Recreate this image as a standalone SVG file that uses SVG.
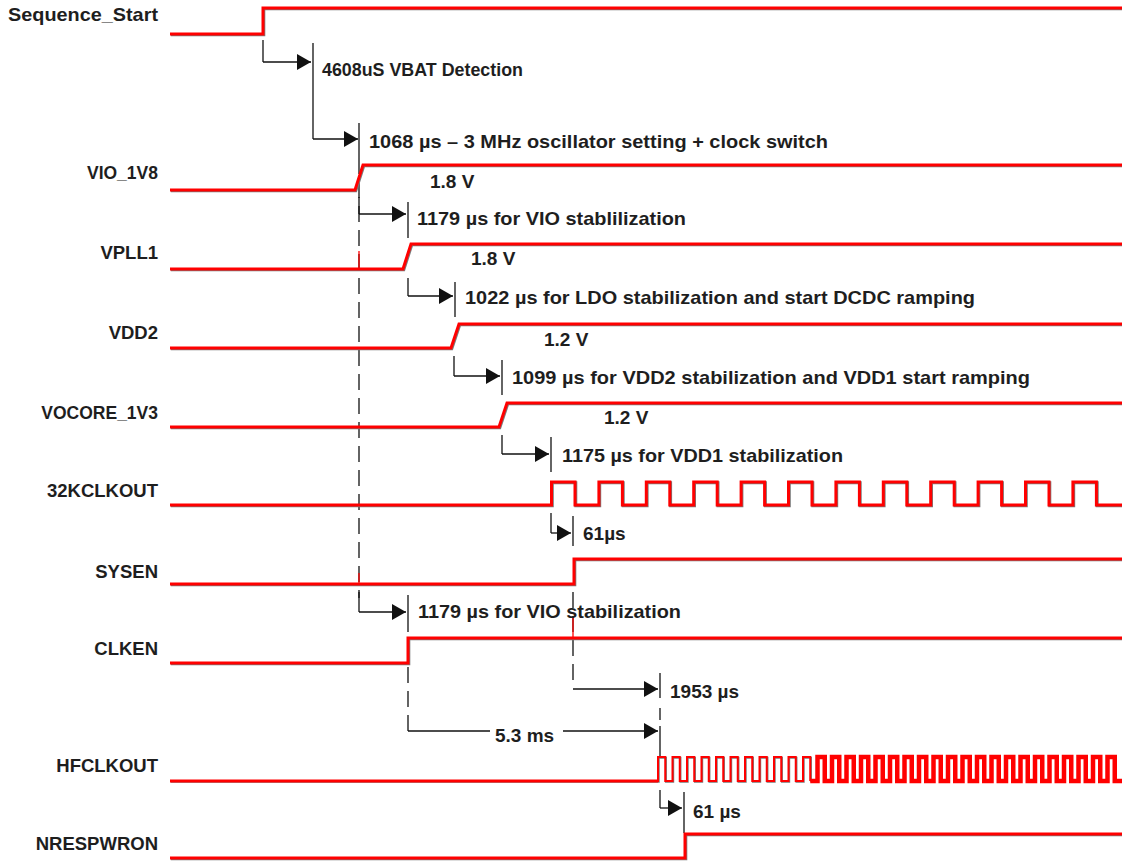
<svg xmlns="http://www.w3.org/2000/svg" width="1122" height="861" viewBox="0 0 1122 861">
<style>
.bg{fill:#fff}
.sig{fill:none;stroke:#ff0000;stroke-width:3;stroke-linejoin:miter}
.sh{fill:none;stroke:#7a7a7a;stroke-width:3;stroke-linejoin:miter}
.thin{fill:none;stroke:#ff0000;stroke-width:2}
.thick{fill:none;stroke:#ff0000;stroke-width:4.5}
.lab{font-family:"Liberation Sans",Arial,sans-serif;font-weight:bold;font-size:18.5px;fill:#1e1e1e;text-anchor:end}
.ann{font-family:"Liberation Sans",Arial,sans-serif;font-weight:bold;font-size:19px;fill:#1e1e1e}
.c{fill:none;stroke:#111;stroke-width:1.3}
.d{fill:none;stroke:#111;stroke-width:1.3;stroke-dasharray:16 8}
.a{fill:none;stroke:#111;stroke-width:1.3;marker-end:url(#ah)}
.r{stroke:#ff0000;stroke-width:1.3}
</style>
<defs>
<marker id="ah" viewBox="0 0 14 16" refX="14" refY="8" markerWidth="14" markerHeight="16" markerUnits="userSpaceOnUse" orient="auto">
<path d="M0,0 L14,8 L0,16 z" fill="#111"/>
</marker>
</defs>
<rect class="bg" x="0" y="0" width="1122" height="861"/>

<g id="connectors">
<path class="c" d="M263,40 V62"/><path class="a" d="M263,62 H311"/>
<path class="c" d="M313,43 V139"/>
<path class="a" d="M313,139 H358"/>
<path class="c" d="M359,123 V158"/>
<path class="d" d="M359,158 V598"/>
<path class="c" d="M359,197 V214"/><path class="a" d="M359,214 H406"/>
<path class="c" d="M408,202 V238"/>
<path class="c" d="M408,278 V296"/><path class="a" d="M408,296 H453"/>
<path class="c" d="M455,282 V317"/>
<path class="c" d="M454,356 V376"/><path class="a" d="M454,376 H500"/>
<path class="c" d="M502,360 V395"/>
<path class="c" d="M502,435 V454"/><path class="a" d="M502,454 H549"/>
<path class="c" d="M551,437 V472"/>
<path class="c" d="M551,513 V533"/><path class="a" d="M551,533 H571"/>
<path class="c" d="M573,516 V546"/>
<path class="d" d="M573,592 V688"/>
<path class="c" d="M359,592 V612"/><path class="a" d="M359,612 H406"/>
<path class="c" d="M408,595 V632"/>
<path class="d" d="M408,667 V731"/>
<path class="a" d="M573,689 H658"/>
<path class="c" d="M660,673 V698"/>
<path class="c" d="M660,708 V720"/>
<path class="c" d="M408,731 H490"/>
<path class="a" d="M563,731 H658"/>
<path class="c" d="M660,726 V756"/>
<path class="c" d="M660,790 V808"/><path class="a" d="M660,808 H682"/>
<path class="c" d="M684,792 V833"/>
<path class="r" d="M359,251 V269"/>
<path class="r" d="M359,573 V584"/>
<path class="r" d="M573,617 V637"/>
</g>

<g id="sequence_start">
<text class="lab" x="158" y="21" textLength="150" lengthAdjust="spacingAndGlyphs">Sequence_Start</text>
<path class="sh" transform="translate(0.8,0.8)" d="M170,34 H263 V8 H1122"/>
<path class="sig" d="M170,34 H263 V8 H1122"/>
<text class="ann" x="322" y="76" style="font-size:17.5px" textLength="201" lengthAdjust="spacingAndGlyphs">4608uS VBAT Detection</text>
<text class="ann" x="369" y="148" textLength="459" lengthAdjust="spacingAndGlyphs">1068 µs – 3 MHz oscillator setting + clock switch</text>
</g>

<g id="vio_1v8">
<text class="lab" x="158" y="179" style="font-size:17.5px">VIO_1V8</text>
<path class="sh" transform="translate(0.8,0.8)" d="M170,190 H355 L363,165 H1122"/>
<path class="sig" d="M170,190 H355 L363,165 H1122"/>
<text class="ann" x="430" y="188">1.8 V</text>
<text class="ann" x="417" y="225" textLength="269" lengthAdjust="spacingAndGlyphs">1179 µs for VIO stablilization</text>
</g>

<g id="vpll1">
<text class="lab" x="158" y="259">VPLL1</text>
<path class="sh" transform="translate(0.8,0.8)" d="M170,269 H403 L411,244 H1122"/>
<path class="sig" d="M170,269 H403 L411,244 H1122"/>
<text class="ann" x="471" y="265">1.8 V</text>
<text class="ann" x="465" y="304" textLength="510" lengthAdjust="spacingAndGlyphs">1022 µs for LDO stabilization and start DCDC ramping</text>
</g>

<g id="vdd2">
<text class="lab" x="158" y="339">VDD2</text>
<path class="sh" transform="translate(0.8,0.8)" d="M170,348 H451 L459,324 H1122"/>
<path class="sig" d="M170,348 H451 L459,324 H1122"/>
<text class="ann" x="544" y="346">1.2 V</text>
<text class="ann" x="512" y="384" textLength="518" lengthAdjust="spacingAndGlyphs">1099 µs for VDD2 stabilization and VDD1 start ramping</text>
</g>

<g id="vocore_1v3">
<text class="lab" x="158" y="419" style="font-size:17.5px">VOCORE_1V3</text>
<path class="sh" transform="translate(0.8,0.8)" d="M170,427 H499 L507,403 H1122"/>
<path class="sig" d="M170,427 H499 L507,403 H1122"/>
<text class="ann" x="604" y="424">1.2 V</text>
<text class="ann" x="562" y="462" textLength="281" lengthAdjust="spacingAndGlyphs">1175 µs for VDD1 stabilization</text>
</g>

<g id="clk32k">
<text class="lab" x="158" y="497">32KCLKOUT</text>
<path class="sh" transform="translate(0.8,0.8)" d="M170,505 H551.5 V482 H575 V505 H598.9 V482 H622.4 V505 H646.3 V482 H669.8 V505 H693.7 V482 H717.2 V505 H741.1 V482 H764.6 V505 H788.5 V482 H812 V505 H835.9 V482 H859.4 V505 H883.3 V482 H906.8 V505 H930.7 V482 H954.2 V505 H978.1 V482 H1001.6 V505 H1025.5 V482 H1049 V505 H1072.9 V482 H1096.4 V505 H1122"/>
<path class="sig" d="M170,505 H551.5 V482 H575 V505 H598.9 V482 H622.4 V505 H646.3 V482 H669.8 V505 H693.7 V482 H717.2 V505 H741.1 V482 H764.6 V505 H788.5 V482 H812 V505 H835.9 V482 H859.4 V505 H883.3 V482 H906.8 V505 H930.7 V482 H954.2 V505 H978.1 V482 H1001.6 V505 H1025.5 V482 H1049 V505 H1072.9 V482 H1096.4 V505 H1122"/>
<text class="ann" x="583" y="540">61µs</text>
</g>

<g id="sysen">
<text class="lab" x="158" y="578">SYSEN</text>
<path class="sh" transform="translate(0.8,0.8)" d="M170,584 H574 V559 H1122"/>
<path class="sig" d="M170,584 H574 V559 H1122"/>
<text class="ann" x="418" y="618" textLength="263" lengthAdjust="spacingAndGlyphs">1179 µs for VIO stabilization</text>
</g>

<g id="clken">
<text class="lab" x="158" y="655">CLKEN</text>
<path class="sh" transform="translate(0.8,0.8)" d="M170,663 H408 V638 H1122"/>
<path class="sig" d="M170,663 H408 V638 H1122"/>
<text class="ann" x="670" y="698">1953 µs</text>
<text class="ann" x="495" y="742">5.3 ms</text>
</g>

<g id="hfclkout">
<text class="lab" x="158" y="772">HFCLKOUT</text>
<path class="sh" transform="translate(0.7,0.7)" style="stroke-width:2" d="M170,781 H658 V757 H665.25 V781 H672.5 V757 H679.75 V781 H687 V757 H694.25 V781 H701.5 V757 H708.75 V781 H716 V757 H723.25 V781 H730.5 V757 H737.75 V781 H745 V757 H752.25 V781 H759.5 V757 H766.75 V781 H774 V757 H781.25 V781 H788.5 V757 H795.75 V781 H803 V757 H810.25 V781"/>
<path class="thin" d="M170,781 H658 V757 H665.25 V781 H672.5 V757 H679.75 V781 H687 V757 H694.25 V781 H701.5 V757 H708.75 V781 H716 V757 H723.25 V781 H730.5 V757 H737.75 V781 H745 V757 H752.25 V781 H759.5 V757 H766.75 V781 H774 V757 H781.25 V781 H788.5 V757 H795.75 V781 H803 V757 H810.25 V781"/>
<path class="sig" d="M170,781 H658"/>
<path class="thick" d="M810.25,781 H817.5 V757 H824.75 V781 H832 V757 H839.25 V781 H846.5 V757 H853.75 V781 H861 V757 H868.25 V781 H875.5 V757 H882.75 V781 H890 V757 H897.25 V781 H904.5 V757 H911.75 V781 H919 V757 H926.25 V781 H933.5 V757 H940.75 V781 H948 V757 H955.25 V781 H962.5 V757 H969.75 V781 H977 V757 H984.25 V781 H991.5 V757 H998.75 V781 H1006 V757 H1013.25 V781 H1020.5 V757 H1027.75 V781 H1035 V757 H1042.25 V781 H1049.5 V757 H1056.75 V781 H1064 V757 H1071.25 V781 H1078.5 V757 H1085.75 V781 H1093 V757 H1100.25 V781 H1107.5 V757 H1114.75 V781 H1122"/>
<text class="ann" x="693" y="818">61 µs</text>
</g>

<g id="nrespwron">
<text class="lab" x="158" y="850">NRESPWRON</text>
<path class="sh" transform="translate(0.8,0.8)" d="M170,858 H685 V834 H1122"/>
<path class="sig" d="M170,858 H685 V834 H1122"/>
</g>
</svg>
